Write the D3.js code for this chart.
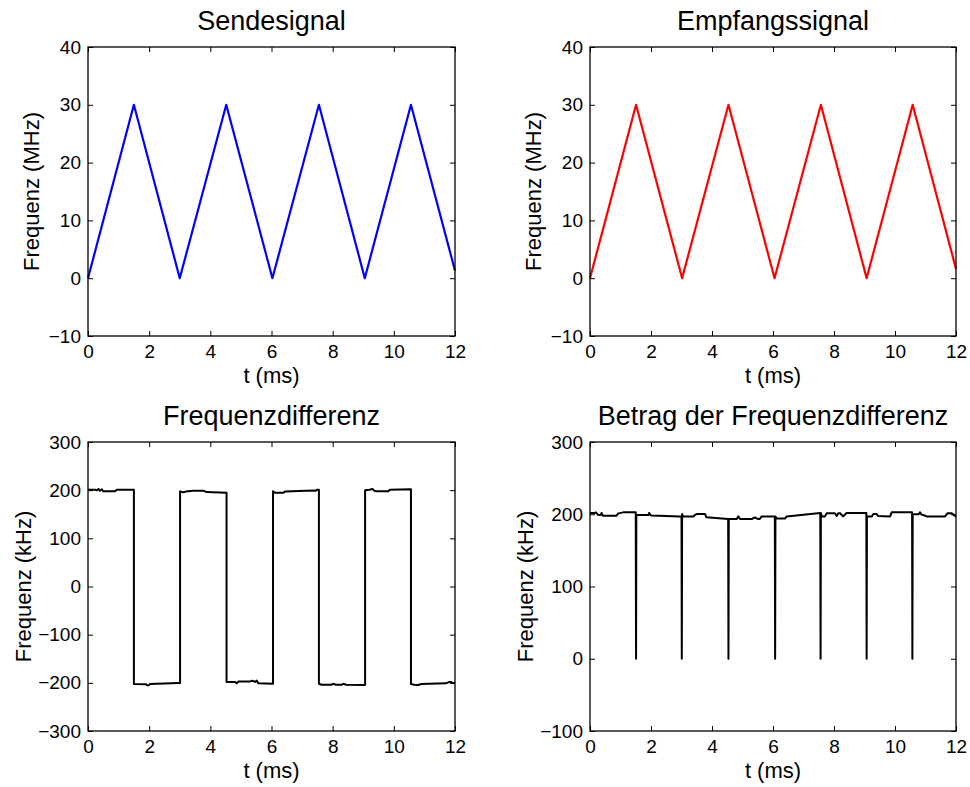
<!DOCTYPE html>
<html>
<head>
<meta charset="utf-8">
<title>Frequenzen</title>
<style>
  body { margin: 0; background: #fff; }
  svg text { font-family: "Liberation Sans", Arial, Helvetica, sans-serif; fill: #000; }
</style>
</head>
<body>
<script src="https://cdn.jsdelivr.net/npm/d3@7"></script>
<script>
// --- Daten ---
var xTicks = [0, 2, 4, 6, 8, 10, 12];
var mhzTicks = [-10, 0, 10, 20, 30, 40];
var diffTicks = [-300, -200, -100, 0, 100, 200, 300];
var betragTicks = [-100, 0, 100, 200, 300];

// Sendesignal (blau)
var sendT = [0, 1.5, 3.0, 4.52, 6.03, 7.55, 9.05, 10.56, 12];
var sendF = [0, 30, 0, 30, 0, 30, 0, 30, 1.3];
// Empfangssignal (rot)
var empfT = [0, 1.51, 3.02, 4.54, 6.05, 7.57, 9.07, 10.58, 12];
var empfF = [0, 30, 0, 30, 0, 30, 0, 30, 1.6];

// Frequenzdifferenz (kHz)
var diffT = [0, 0.23, 0.28, 0.34, 0.39, 0.45, 0.5, 0.88, 0.94, 1.5,
  1.5, 1.9, 1.93, 1.99, 2.02, 2.95, 3.01,
  3.01, 3.1, 3.2, 3.44, 3.77, 3.88, 4.53,
  4.53, 4.82, 4.86, 4.92, 5.3, 5.38, 5.46, 5.52, 5.57, 6.05,
  6.05, 6.12, 6.39, 6.44, 7.37, 7.45, 7.5, 7.55,
  7.55, 7.64, 7.95, 8.02, 8.1, 8.3, 8.35, 8.44, 9.06,
  9.06, 9.2, 9.3, 9.38, 9.44, 9.82, 9.87, 10.56,
  10.56, 10.66, 10.8, 10.9, 11.7, 11.8, 11.88, 11.92, 12];
var diffV = [201, 201, 199.7, 202.4, 198.6, 201.7, 197.5, 197.5, 201, 201,
  -202.5, -203, -205, -205, -202.5, -200.5, -200.5,
  197.6, 195.5, 197, 199, 199, 196, 194.5,
  -198.5, -198.5, -201, -197, -197, -195.5, -198, -195.5, -201, -202,
  197.6, 194.5, 194.5, 197, 199.5, 199, 201, 201,
  -202, -204, -204, -202, -204, -204, -202, -204, -204.5,
  199.7, 201, 202.4, 198.3, 197.5, 197.5, 201, 202,
  -202.5, -204, -204.5, -202.5, -201, -198.5, -198.5, -201, -200];

// Betrag der Frequenzdifferenz (kHz)
var betragT = [0, 0.15, 0.19, 0.27, 0.35, 0.38, 0.42, 0.87, 0.93, 1.09, 1.5,
  1.51, 1.52, 1.91, 1.94, 1.99, 2.02, 2.95, 3.0,
  3.01, 3.02, 3.05, 3.39, 3.44, 3.5, 3.77, 3.82, 4.53,
  4.54, 4.55, 4.81, 4.86, 4.92, 5.3, 5.41, 5.5, 5.56, 5.63, 6.06,
  6.07, 6.08, 6.12, 6.39, 6.45, 7.55,
  7.56, 7.57, 7.6, 7.7, 7.76, 8.03, 8.09, 8.14, 8.2, 8.3, 8.41, 9.06,
  9.07, 9.08, 9.24, 9.29, 9.4, 9.45, 9.84, 9.89, 10.56,
  10.57, 10.58, 10.78, 10.82, 10.87, 10.93, 11.04, 11.64, 11.72, 11.86, 11.97, 12];
var betragV = [201.7, 201.7, 202.6, 198.9, 199, 201.7, 198, 198, 201.2, 202.6, 202.6,
  0, 198.9, 198.9, 201.7, 198.5, 198.4, 197, 197,
  0, 200.3, 197, 197, 199, 200.3, 200.3, 195.7, 193.4,
  0, 193.4, 193.4, 197, 193.4, 193.4, 195.7, 193.4, 193.4, 197, 197,
  0, 197, 194, 194, 197, 201.7,
  0, 201.7, 197, 197, 201.3, 201.3, 197.5, 201.3, 201.3, 197, 201.7, 201.7,
  0, 197, 197, 200.3, 200.3, 197.5, 197, 202.6, 202.6,
  0, 200.3, 200, 202.6, 199.5, 198.9, 197, 197, 201.3, 201.3, 197.5, 197.5];

var width = 970, height = 787;
var svg = d3.select("body").append("svg")
  .attr("width", width)
  .attr("height", height);

function zip(ts, vs) {
  return ts.map(function(t, i) { return [t, vs[i]]; });
}

function panel(p) {
  var x = d3.scaleLinear().domain([0, 12]).range([p.left, p.right]);
  var y = d3.scaleLinear().domain(p.yDomain).range([p.bottom, p.top]);
  var g = svg.append("g");

  // Kurve
  var line = d3.line().x(function(d) { return x(d[0]); }).y(function(d) { return y(d[1]); });
  g.append("path")
    .datum(zip(p.t, p.v))
    .attr("fill", "none")
    .attr("stroke", p.color)
    .attr("stroke-width", p.lw)
    .attr("stroke-linejoin", "round")
    .attr("d", line);

  // Achsen, Ticks nach innen wie bei MATLAB
  var ax = g.append("g").attr("transform", "translate(0," + p.bottom + ")")
    .call(d3.axisBottom(x).tickValues(xTicks).tickSizeInner(-5).tickSizeOuter(0).tickPadding(9));
  var at = g.append("g").attr("transform", "translate(0," + p.top + ")")
    .call(d3.axisTop(x).tickValues(xTicks).tickSizeInner(-5).tickSizeOuter(0).tickFormat(""));
  var ay = g.append("g").attr("transform", "translate(" + p.left + ",0)")
    .call(d3.axisLeft(y).tickValues(p.yTicks).tickSizeInner(-5).tickSizeOuter(0).tickPadding(7));
  var ar = g.append("g").attr("transform", "translate(" + p.right + ",0)")
    .call(d3.axisRight(y).tickValues(p.yTicks).tickSizeInner(-5).tickSizeOuter(0).tickFormat(""));
  [ax, at, ay, ar].forEach(function(a) {
    a.select(".domain").remove();
    a.selectAll("line").attr("stroke", "#000").attr("stroke-width", 1);
    a.selectAll("text").attr("font-size", 19).attr("fill", "#000");
  });

  g.append("rect")
    .attr("x", p.left).attr("y", p.top)
    .attr("width", p.right - p.left).attr("height", p.bottom - p.top)
    .attr("fill", "none").attr("stroke", "#000").attr("stroke-width", 1.3);

  g.append("text")
    .attr("x", (p.left + p.right) / 2).attr("y", p.top - 17)
    .attr("text-anchor", "middle").attr("font-size", 27)
    .text(p.title);
  g.append("text")
    .attr("x", (p.left + p.right) / 2).attr("y", p.bottom + 47)
    .attr("text-anchor", "middle").attr("font-size", 22)
    .text("t (ms)");
  g.append("text")
    .attr("transform", "translate(" + p.ylx + "," + (p.top + p.bottom) / 2 + ") rotate(-90)")
    .attr("text-anchor", "middle").attr("font-size", 22)
    .text(p.ylabel);
}

panel({ title: "Sendesignal", ylabel: "Frequenz (MHz)", left: 88, right: 455, top: 47, bottom: 336,
  yDomain: [-10, 40], yTicks: mhzTicks, t: sendT, v: sendF, color: "#0000ff", lw: 2.2, ylx: 39 });
panel({ title: "Empfangssignal", ylabel: "Frequenz (MHz)", left: 590, right: 956, top: 47, bottom: 336,
  yDomain: [-10, 40], yTicks: mhzTicks, t: empfT, v: empfF, color: "#ff0000", lw: 2.2, ylx: 541 });
panel({ title: "Frequenzdifferenz", ylabel: "Frequenz (kHz)", left: 88, right: 455, top: 442, bottom: 731,
  yDomain: [-300, 300], yTicks: diffTicks, t: diffT, v: diffV, color: "#000", lw: 2, ylx: 31 });
panel({ title: "Betrag der Frequenzdifferenz", ylabel: "Frequenz (kHz)", left: 590, right: 956, top: 442, bottom: 731,
  yDomain: [-100, 300], yTicks: betragTicks, t: betragT, v: betragV, color: "#000", lw: 2, ylx: 533 });
</script>
</body>
</html>
